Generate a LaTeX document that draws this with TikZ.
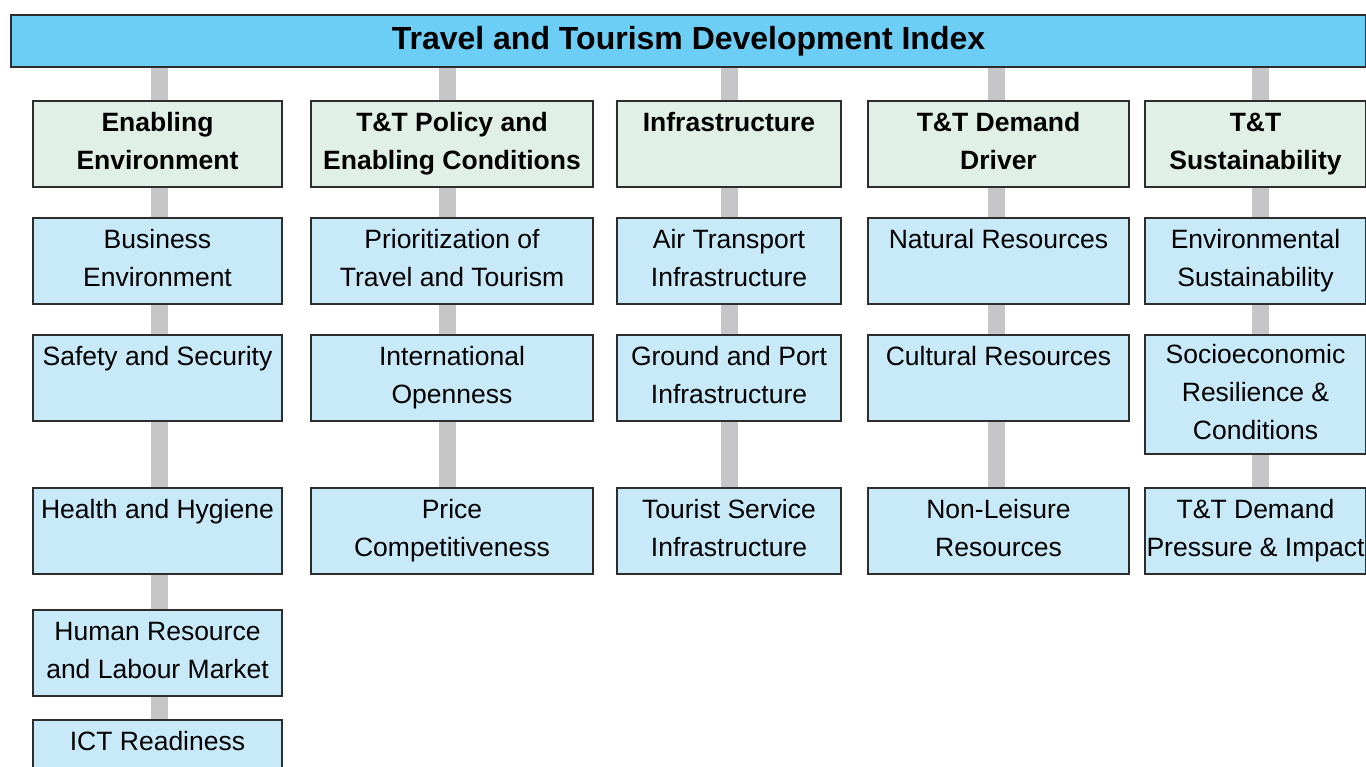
\documentclass[tikz,border=0pt]{standalone}
\usepackage{fontspec}
\setmainfont{Liberation Sans}
\usepackage{tikz}
\usetikzlibrary{positioning,calc}

\definecolor{titleblue}{HTML}{6DCEF5}
\definecolor{headgreen}{HTML}{E1F0E6}
\definecolor{itemblue}{HTML}{C7E9F8}
\definecolor{bargrey}{HTML}{C6C6C8}
\definecolor{edgegrey}{HTML}{2E2C2D}

\tikzset{
  box/.style={draw=edgegrey, line width=2pt, anchor=north west, align=center,
    inner xsep=0pt, inner ysep=0pt, minimum height=86pt,
    text height=57pt, text depth=6pt,
    font=\fontsize{26.5}{38}\selectfont},
  headbox/.style={box, fill=headgreen, font=\fontsize{26.5}{38}\selectfont\bfseries},
  itembox/.style={box, fill=itemblue},
  bar/.style={draw=bargrey, line width=17pt}
}

\begin{document}
\begin{tikzpicture}[x=1pt, y=-1pt]
  \useasboundingbox (0,0) rectangle (1366,767);

  % Title
  \node[draw=edgegrey, line width=2pt, fill=titleblue, anchor=north west,
    minimum width=1355pt, minimum height=52pt, inner sep=0pt,
    text height=23pt, text depth=6pt,
    font=\fontsize{32}{38}\selectfont\bfseries] (title) at (10,14)
    {Travel and Tourism Development Index};

  % Pillars
  \node[headbox, minimum width=249pt] (h1) at (32,100) {Enabling\\Environment};
  \node[headbox, minimum width=282pt] (h2) at (310,100) {T\&T Policy and\\Enabling Conditions};
  \node[headbox, minimum width=224pt] (h3) at (616,100) {Infrastructure\\\mbox{}};
  \node[headbox, minimum width=261pt] (h4) at (867,100) {T\&T Demand\\Driver};
  \node[headbox, minimum width=221pt] (h5) at (1144,100) {T\&T\\Sustainability};

  % Enabling Environment
  \node[itembox, minimum width=249pt] (e1) at (32,217) {Business\\Environment};
  \node[itembox, minimum width=249pt] (e2) at (32,334) {Safety and Security\\\mbox{}};
  \node[itembox, minimum width=249pt] (e3) at (32,487) {Health and Hygiene\\\mbox{}};
  \node[itembox, minimum width=249pt] (e4) at (32,609) {Human Resource\\and Labour Market};
  \node[itembox, minimum width=249pt] (e5) at (32,719) {ICT Readiness\\\mbox{}};

  % T&T Policy
  \node[itembox, minimum width=282pt] (p1) at (310,217) {Prioritization of\\Travel and Tourism};
  \node[itembox, minimum width=282pt] (p2) at (310,334) {International\\Openness};
  \node[itembox, minimum width=282pt] (p3) at (310,487) {Price\\Competitiveness};

  % Infrastructure
  \node[itembox, minimum width=224pt] (i1) at (616,217) {Air Transport\\Infrastructure};
  \node[itembox, minimum width=224pt] (i2) at (616,334) {Ground and Port\\Infrastructure};
  \node[itembox, minimum width=224pt] (i3) at (616,487) {Tourist Service\\Infrastructure};

  % Demand drivers
  \node[itembox, minimum width=261pt] (d1) at (867,217) {Natural Resources\\\mbox{}};
  \node[itembox, minimum width=261pt] (d2) at (867,334) {Cultural Resources\\\mbox{}};
  \node[itembox, minimum width=261pt] (d3) at (867,487) {Non-Leisure\\Resources};

  % Sustainability
  \node[itembox, minimum width=221pt, minimum height=119pt, text height=95pt] (s2) at (1144,334)
    {Socioeconomic\\Resilience \&\\Conditions};
  \node[itembox, minimum width=221pt] (s1) at (1144,217) {Environmental\\Sustainability};
  \node[itembox, minimum width=221pt] (s3) at (1144,487) {T\&T Demand\\Pressure \& Impact};

  % Connectors
  \foreach \c/\dx in {h1/1.5,h2/-4.5,h3/0.5,h4/-2,h5/4.5}
    \draw[bar] ([xshift=\dx]\c.north) -- ([xshift=\dx]\c.north |- title.south);
  \foreach \a/\b/\dx in {h1/e1/1.5,e1/e2/1.5,e2/e3/1.5,e3/e4/1.5,e4/e5/1.5,
                         h2/p1/-4.5,p1/p2/-4.5,p2/p3/-4.5,
                         h3/i1/0.5,i1/i2/0.5,i2/i3/0.5,
                         h4/d1/-2,d1/d2/-2,d2/d3/-2,
                         h5/s1/4.5,s1/s2/4.5,s2/s3/4.5}
    \draw[bar] ([xshift=\dx]\a.south) -- ([xshift=\dx]\b.north);
\end{tikzpicture}
\end{document}
